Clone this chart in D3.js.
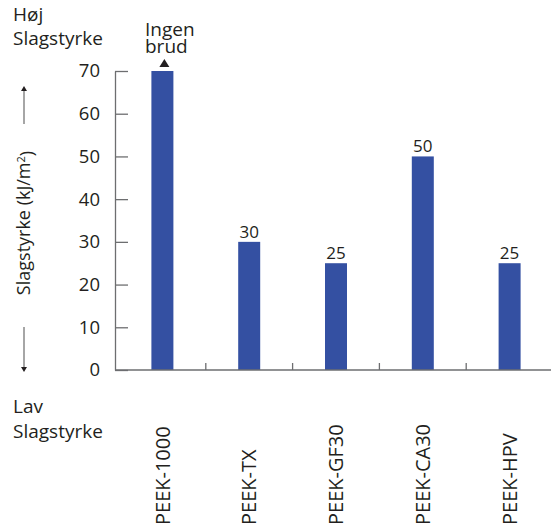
<!DOCTYPE html>
<html>
<head>
<meta charset="utf-8">
<script src="https://cdn.jsdelivr.net/npm/d3@7"></script>
<style>
  body { margin: 0; background: #fff; }
  svg { display: block; font-family: "Open Sans", "Noto Sans", sans-serif; }
</style>
</head>
<body>
<svg id="chart" width="551" height="532"></svg>
<script>
const categories = ["PEEK-1000", "PEEK-TX", "PEEK-GF30", "PEEK-CA30", "PEEK-HPV"];
const values = [70, 30, 25, 50, 25];
const valueLabels = ["", "30", "25", "50", "25"];
const yTicks = [0, 10, 20, 30, 40, 50, 60, 70];

const textColor = "#231f20";
const barColor = "#3450a2";
const axisColor = "#6d6e70";

const svg = d3.select("#chart");

const y = d3.scaleLinear().domain([0, 70]).range([370, 71]);
const x = d3.scaleBand().domain(categories).range([119, 553]).padding(0);
const barW = 22;
const cx = c => x(c) + x.bandwidth() / 2;

// y axis
const yAxis = d3.axisLeft(y).tickValues(yTicks).tickSizeInner(-13).tickSizeOuter(0).tickPadding(15);
const gy = svg.append("g").attr("transform", "translate(115,0)").call(yAxis);
gy.select(".domain").attr("stroke", axisColor).attr("stroke-width", 1.3);
gy.selectAll(".tick line").attr("stroke", axisColor).attr("stroke-width", 1.3);
gy.selectAll(".tick text").attr("fill", textColor).style("font-size", "18.5px").style("font-family", "'Open Sans', sans-serif");

// bars
svg.append("g").selectAll("rect").data(categories).join("rect")
  .attr("x", (c) => cx(c) - barW / 2)
  .attr("width", barW)
  .attr("y", (c, i) => y(values[i]))
  .attr("height", (c, i) => y(0) - y(values[i]))
  .attr("fill", barColor);

// x axis line and separator ticks
svg.append("line").attr("x1", 115).attr("x2", 551).attr("y1", y(0)).attr("y2", y(0))
  .attr("stroke", axisColor).attr("stroke-width", 1.5);
svg.append("g").selectAll("line").data(categories.slice(1)).join("line")
  .attr("x1", c => x(c)).attr("x2", c => x(c))
  .attr("y1", y(0)).attr("y2", y(0) - 7)
  .attr("stroke", axisColor).attr("stroke-width", 1.3);

// value labels
svg.append("g").selectAll("text").data(categories).join("text")
  .attr("x", c => cx(c))
  .attr("y", (c, i) => y(values[i]) - 4)
  .attr("text-anchor", "middle")
  .attr("fill", textColor)
  .style("font-size", "17px")
  .text((c, i) => valueLabels[i]);

// x labels rotated
svg.append("g").selectAll("text").data(categories).join("text")
  .attr("transform", c => `translate(${cx(c)},525) rotate(-90)`)
  .attr("dy", "0.36em")
  .attr("text-anchor", "start")
  .attr("fill", textColor)
  .style("font-size", "20px")
  .text(c => c);

// Ingen brud annotation (one text, two lines)
const c0 = cx(categories[0]);
const ann = svg.append("text").attr("fill", textColor).style("font-size", "19px");
ann.append("tspan").attr("x", 145).attr("y", 36).text("Ingen");
ann.append("tspan").attr("x", 145).attr("y", 53).text("brud");
svg.append("path")
  .attr("d", `M${c0 - 3},${y(values[0]) - 4} L${c0 + 7},${y(values[0]) - 4} L${c0 + 2},${y(values[0]) - 12} Z`)
  .attr("fill", textColor);

// Høj / Lav labels
const hoj = svg.append("text").attr("fill", textColor).style("font-size", "19px");
hoj.append("tspan").attr("x", 13).attr("y", 21).text("Høj");
hoj.append("tspan").attr("x", 13).attr("y", 45).text("Slagstyrke");
const lav = svg.append("text").attr("fill", textColor).style("font-size", "19px");
lav.append("tspan").attr("x", 13).attr("y", 413).text("Lav");
lav.append("tspan").attr("x", 13).attr("y", 438).text("Slagstyrke");

// y title
const title = svg.append("text")
  .attr("transform", "translate(30,223) rotate(-90)")
  .attr("text-anchor", "middle")
  .attr("fill", textColor)
  .style("font-size", "18px");
title.append("tspan").text("Slagstyrke (kJ/m");
title.append("tspan").attr("dy", "-0.45em").style("font-size", "11px").text("2");
title.append("tspan").attr("dy", "0.45em").text(")");

// arrows
const ax = 24;
svg.append("line").attr("x1", ax).attr("x2", ax).attr("y1", 88).attr("y2", 124).attr("stroke", "#888").attr("stroke-width", 1.5);
svg.append("path").attr("d", `M${ax - 3},${91} L${ax + 3},${91} L${ax},${86} Z`).attr("fill", textColor);
svg.append("line").attr("x1", ax).attr("x2", ax).attr("y1", 327).attr("y2", 370).attr("stroke", "#888").attr("stroke-width", 1.5);
svg.append("path").attr("d", `M${ax - 3},${367} L${ax + 3},${367} L${ax},${372} Z`).attr("fill", textColor);
</script>
</body>
</html>
